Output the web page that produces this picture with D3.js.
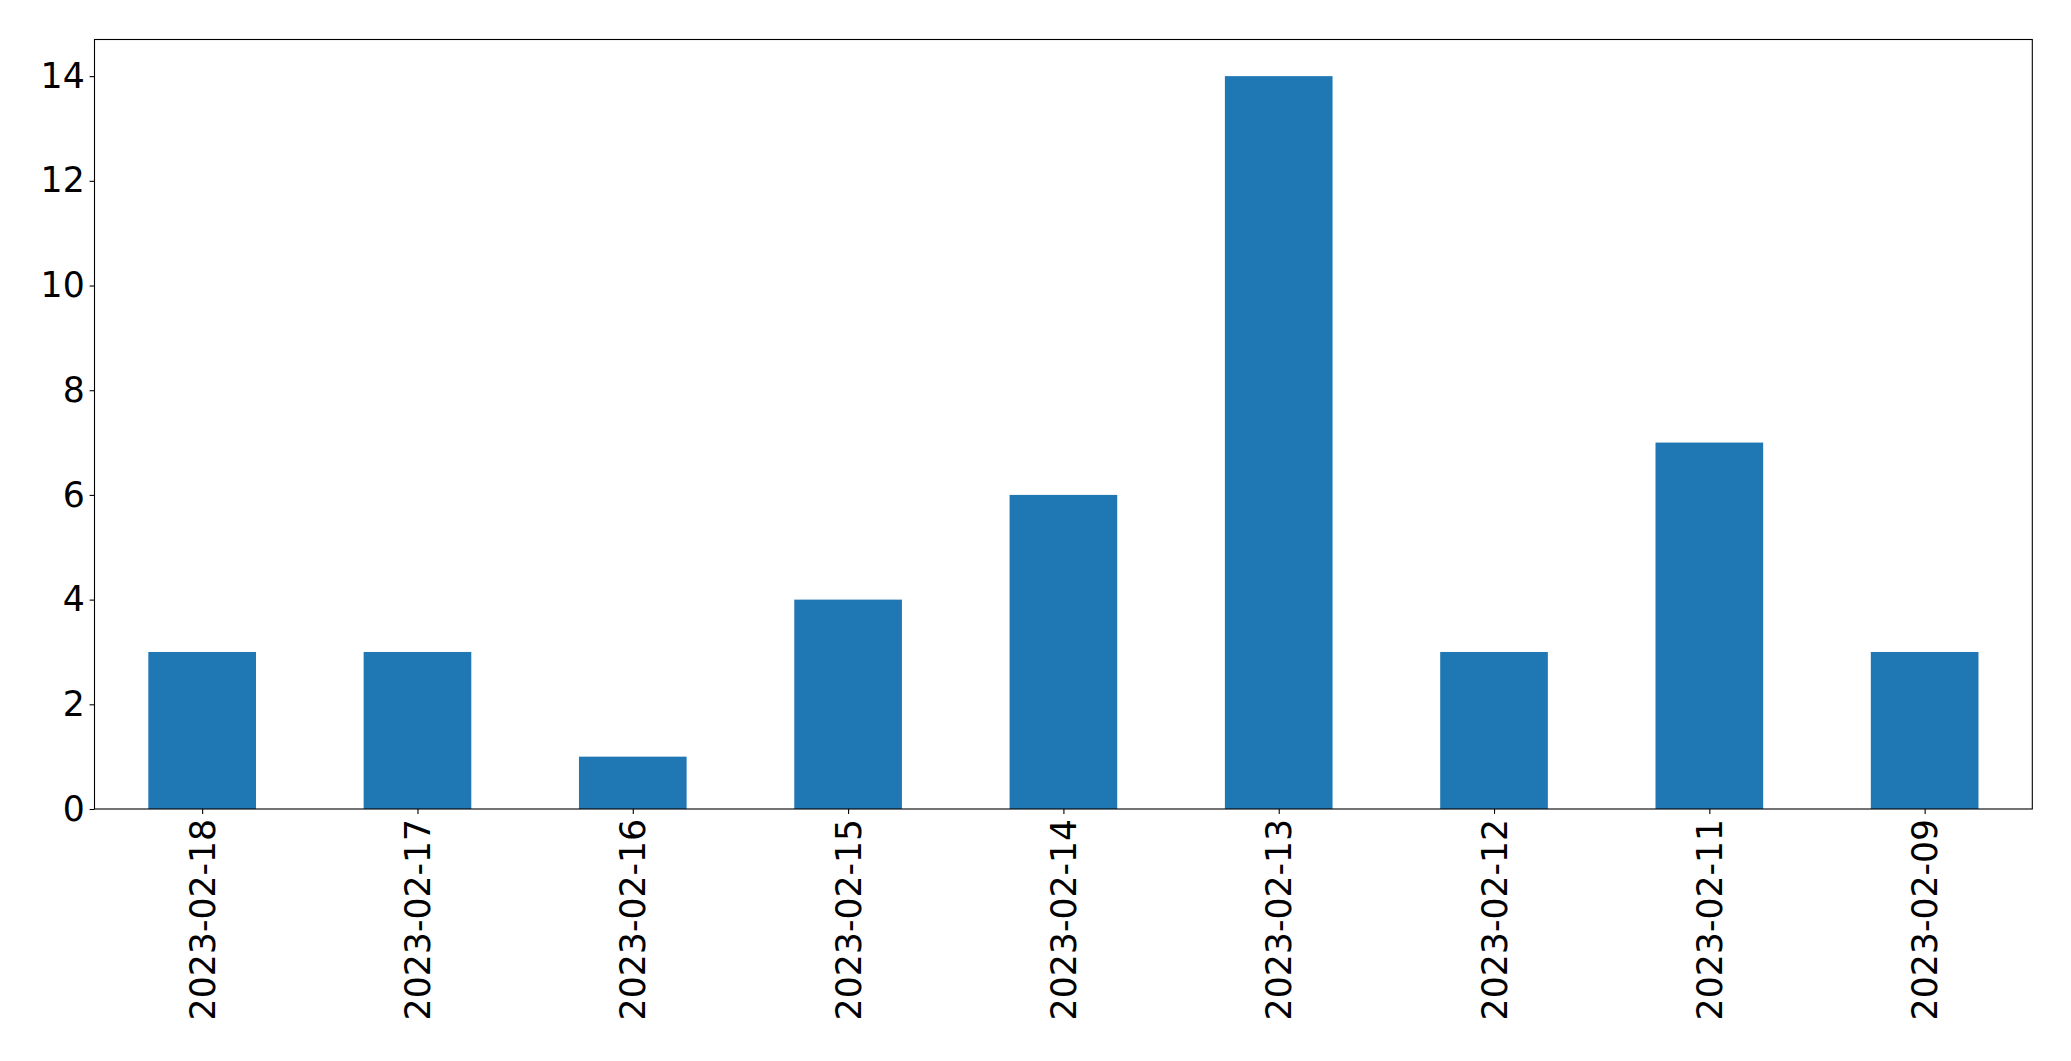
<!DOCTYPE html>
<html>
<head>
<meta charset="utf-8">
<script src="https://cdn.jsdelivr.net/npm/d3@7"></script>
<style>
  html, body { margin: 0; padding: 0; background: #fff; }
  svg { display: block; }
</style>
</head>
<body>
<svg id="chart" width="2071" height="1061"></svg>
<script>
const categories = ["2023-02-18","2023-02-17","2023-02-16","2023-02-15","2023-02-14","2023-02-13","2023-02-12","2023-02-11","2023-02-09"];
const values = [3, 3, 1, 4, 6, 14, 3, 7, 3];
const yTicks = [0, 2, 4, 6, 8, 10, 12, 14];

const W = 2071, H = 1061;
const margin = { left: 94.5, right: W - 2032.3, top: 39.5, bottom: H - 809 };
const iw = W - margin.left - margin.right;
const ih = H - margin.top - margin.bottom;

const svg = d3.select("#chart");
const g = svg.append("g").attr("transform", `translate(${margin.left},${margin.top})`);

const x = d3.scaleLinear().domain([-0.5, categories.length - 0.5]).range([0, iw]);
const ymax = d3.max(values) * 1.05;
const y = d3.scaleLinear().domain([0, ymax]).range([ih, 0]);

const barW = x(0.25) - x(-0.25);
g.selectAll("rect.bar").data(values).join("rect")
  .attr("class", "bar")
  .attr("x", (d, i) => x(i) - barW / 2)
  .attr("width", barW)
  .attr("y", d => y(d))
  .attr("height", d => y(0) - y(d))
  .attr("fill", "#1f77b4");

const font = "'DejaVu Sans', sans-serif";
const fs = 34.7;

const yAxis = d3.axisLeft(y).tickValues(yTicks).tickFormat(d3.format("d")).tickSize(4.9).tickPadding(4.9);
const ya = g.append("g").call(yAxis);
ya.select(".domain").remove();
ya.selectAll("line").attr("stroke", "#000").attr("stroke-width", 1.1);
ya.selectAll("text").attr("font-family", font).attr("font-size", fs).attr("fill", "#000");

const xAxis = d3.axisBottom(x).tickValues(d3.range(categories.length)).tickFormat(i => categories[i]).tickSize(4.9).tickPadding(0);
const xa = g.append("g").attr("transform", `translate(0,${ih})`).call(xAxis);
xa.select(".domain").remove();
xa.selectAll("line").attr("stroke", "#000").attr("stroke-width", 1.1);
xa.selectAll("text")
  .attr("font-family", font).attr("font-size", fs).attr("fill", "#000")
  .attr("transform", "translate(0,9.8) rotate(-90)")
  .attr("text-anchor", "end")
  .attr("dy", "0.35em")
  .attr("x", 0).attr("y", 0);

g.append("rect")
  .attr("x", 0).attr("y", 0).attr("width", iw).attr("height", ih)
  .attr("fill", "none").attr("stroke", "#000").attr("stroke-width", 1.1);
</script>
</body>
</html>
